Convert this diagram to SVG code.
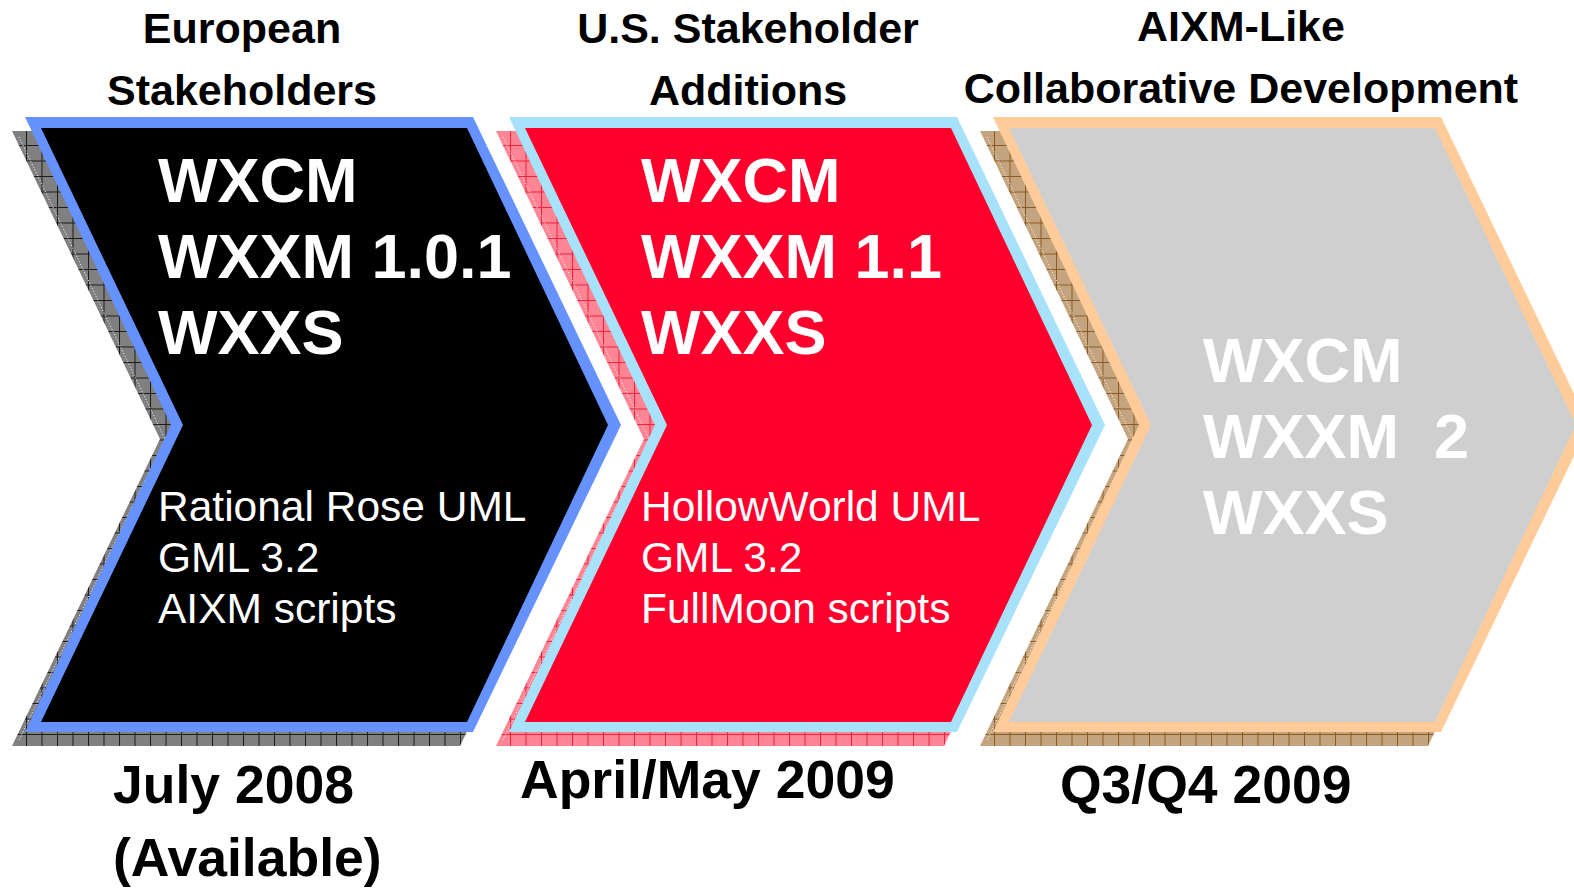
<svg xmlns="http://www.w3.org/2000/svg" width="1574" height="889" viewBox="0 0 1574 889">
<defs>
<pattern id="gridGray" patternUnits="userSpaceOnUse" x="10.5" y="129.5" width="15.5" height="15.5">
<rect width="15.5" height="15.5" fill="#808080"/>
<path d="M0.5 0V15.5M0 0.5H15.5" stroke="#1a1a1a" stroke-width="1"/>
</pattern>
<pattern id="gridPink" patternUnits="userSpaceOnUse" x="10.5" y="129.5" width="15.5" height="15.5">
<rect width="15.5" height="15.5" fill="#FF8494"/>
<path d="M0.5 0V15.5M0 0.5H15.5" stroke="#F0203C" stroke-width="1"/>
</pattern>
<pattern id="gridTan" patternUnits="userSpaceOnUse" x="10.5" y="129.5" width="15.5" height="15.5">
<rect width="15.5" height="15.5" fill="#C4A47E"/>
<path d="M0.5 0V15.5M0 0.5H15.5" stroke="#8A5A22" stroke-width="1"/>
</pattern>
</defs>
<style>
.hdr{font-family:"Liberation Sans",Arial,sans-serif;font-weight:bold;font-size:43px;fill:#000;text-anchor:middle}
.big{font-family:"Liberation Sans",Arial,sans-serif;font-weight:bold;font-size:63px;fill:#fff}
.sm{font-family:"Liberation Sans",Arial,sans-serif;font-size:42.5px;fill:#fff}
.date{font-family:"Liberation Sans",Arial,sans-serif;font-weight:bold;font-size:53.5px;fill:#000}
.dot{fill:none;stroke:#fff;stroke-width:1;stroke-dasharray:1 2}
</style>
<rect width="1574" height="889" fill="#fff"/>

<g id="stage1">
<polygon points="12,131 460,131 608,439 460,746 12,746 160,439" fill="url(#gridGray)"/>
<polyline class="dot" points="19,137 165,439 19,740"/>
<polygon points="25,117 473,117 621,425 473,732 25,732 171,425" fill="#6592FF"/>
<polygon points="41,128 467,128 608,425 467,722 41,722 183,425" fill="#000"/>
<text class="big" x="158" y="202">WXCM</text>
<text class="big" x="158" y="278">WXXM 1.0.1</text>
<text class="big" x="158" y="354">WXXS</text>
<text class="sm" x="158" y="521">Rational Rose UML</text>
<text class="sm" x="158" y="572">GML 3.2</text>
<text class="sm" x="158" y="623">AIXM scripts</text>
</g>

<g id="stage2" transform="translate(484 0)">
<polygon points="12,131 460,131 608,439 460,746 12,746 160,439" fill="url(#gridPink)"/>
<polyline class="dot" points="19,137 165,439 19,740"/>
<polygon points="25,117 473,117 621,425 473,732 25,732 171,425" fill="#A8E2FA"/>
<polygon points="41,128 467,128 608,425 467,722 41,722 183,425" fill="#FF002D"/>
<text class="big" x="157" y="202">WXCM</text>
<text class="big" x="157" y="278">WXXM 1.1</text>
<text class="big" x="157" y="354">WXXS</text>
<text class="sm" x="157" y="521">HollowWorld UML</text>
<text class="sm" x="157" y="572">GML 3.2</text>
<text class="sm" x="157" y="623">FullMoon scripts</text>
</g>

<g id="stage3" transform="translate(968 0)">
<polygon points="12,131 460,131 608,439 460,746 12,746 160,439" fill="url(#gridTan)"/>
<polyline class="dot" points="19,137 165,439 19,740"/>
<polygon points="25,117 473,117 621,425 473,732 25,732 171,425" fill="#FFCC99"/>
<polygon points="41,128 467,128 608,425 467,722 41,722 183,425" fill="#CFCFCF"/>
<text class="big" x="235" y="382">WXCM</text>
<text class="big" x="235" y="458" xml:space="preserve">WXXM  2</text>
<text class="big" x="235" y="534">WXXS</text>
</g>

<g id="headers">
<text class="hdr" x="242" y="43">European</text>
<text class="hdr" x="748" y="43">U.S. Stakeholder</text>
<text class="hdr" x="242" y="105">Stakeholders</text>
<text class="hdr" x="748" y="105">Additions</text>
<text class="hdr" x="1241" y="41">AIXM-Like</text>
<text class="hdr" x="1241" y="103">Collaborative Development</text>
</g>

<g id="dates">
<text class="date" x="113" y="803">July 2008</text>
<text class="date" x="113" y="876">(Available)</text>
<text class="date" x="520" y="798">April/May 2009</text>
<text class="date" x="1060" y="803">Q3/Q4 2009</text>
</g>
</svg>
